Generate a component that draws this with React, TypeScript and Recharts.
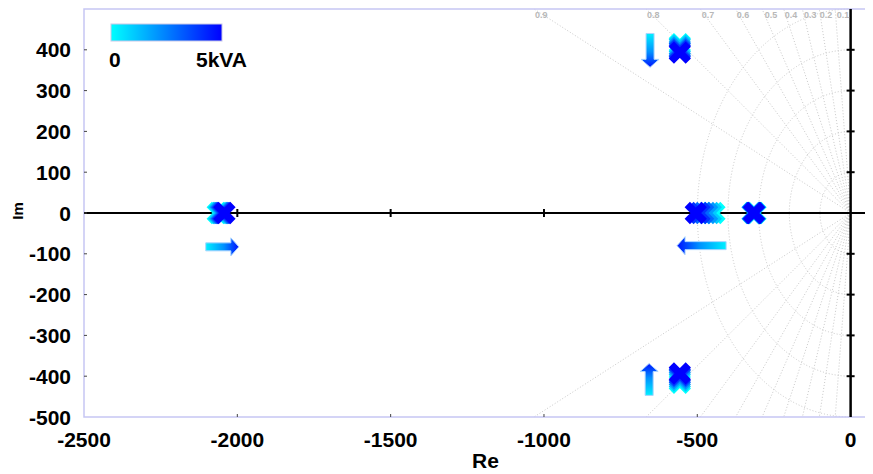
import React from "react";
import {
  ReferenceArea,
  ReferenceLine,
  Scatter,
  ScatterChart,
  XAxis,
  YAxis
} from "recharts";

// axes
const reDomain = [-2500, 73];
const imDomain = [-500, 500];
const reTicks = [-2500, -2000, -1500, -1000, -500, 0];
const imTicks = [-500, -400, -300, -200, -100, 0, 100, 200, 300, 400];
const zeroLineReTicks = [-2000, -1500, -1000, -500];
const zeroLineImTicks = [400, 300, 200, 100, -100, -200, -300, -400];

// s-plane grid
const dampingRatios = [0.1, 0.2, 0.3, 0.4, 0.5, 0.6, 0.7, 0.8, 0.9];
const dampingLabelRe = [-25, -80, -132, -194, -260, -351, -465, -644, -1009];
const naturalFreqs = [100, 200, 300, 400, 500];

// poles vs. inverter power (kVA)
const powerSteps = [0, 1, 2, 3, 4, 5];
const farPoleRe = [-2064, -2059, -2054, -2050, -2046, -2042];
const midPoleRe = [-444, -456, -468, -481, -493, -505];
const nearPoleRe = [-310, -320, -312, -318, -315, -315];
const upperPoleIm = [414, 410, 405, 401, 397, 393];
const lowerPoleIm = [-416, -411, -406, -401, -397, -393];
const complexPoleRe = -557;

// arrows showing the direction of motion with rising power
const arrowTails = [
  { x: -2103, y: -83 },
  { x: -406, y: -80 },
  { x: -654, y: 440 },
  { x: -657, y: -447 }
];
const arrowHeads = [
  { x: -1995, y: -83 },
  { x: -566, y: -80 },
  { x: -654, y: 357 },
  { x: -657, y: -369 }
];

const FONT = "'Liberation Sans', Arial, sans-serif";
const GRID = "#c9c9c9";
const FRAME = "#c6c6f4";

const powerColor = (p: number) =>
  `rgb(0, ${Math.round(255 * (1 - p / 5))}, 255)`;

const poles = [
  ...powerSteps.map((p, i) => ({ x: farPoleRe[i], y: 0, p })),
  ...powerSteps.map((p, i) => ({ x: midPoleRe[i], y: 0, p })),
  ...powerSteps.map((p, i) => ({ x: nearPoleRe[i], y: 0, p })),
  ...powerSteps.map((p, i) => ({ x: complexPoleRe, y: upperPoleIm[i], p })),
  ...powerSteps.map((p, i) => ({ x: complexPoleRe, y: lowerPoleIm[i], p }))
].sort((a, b) => a.p - b.p);

const dampingEdge = (z: number) => (-imDomain[1] * z) / Math.sqrt(1 - z * z);

const dampingLabels = dampingRatios.map((z, i) => ({
  x: dampingLabelRe[i],
  y: 486,
  label: String(z)
}));

function PoleCross(props: any) {
  const { cx, cy, payload } = props;
  const s = 8.5;
  return (
    <path
      d={`M${cx - s},${cy - s}L${cx + s},${cy + s}M${cx + s},${cy - s}L${cx - s},${cy + s}`}
      stroke={powerColor(payload.p)}
      strokeWidth={7.5}
      fill="none"
    />
  );
}

function ArcShape(props: any) {
  const { x1, y1, x2, y2 } = props;
  const rx = x2 - x1;
  const ry = y1 - y2;
  return (
    <path
      d={`M${x2},${y1 - ry}A${rx},${ry} 0 0 0 ${x2},${y1 + ry}`}
      fill="none"
      stroke={GRID}
      strokeDasharray="1 2"
    />
  );
}

function ArrowShape(props: any) {
  const { x1, y1, x2, y2, id } = props;
  const len = Math.hypot(x2 - x1, y2 - y1);
  const ux = (x2 - x1) / len;
  const uy = (y2 - y1) / len;
  const nx = -uy;
  const ny = ux;
  const sw = 4;
  const hw = 9;
  const hl = 8;
  const bx = x2 - ux * hl;
  const by = y2 - uy * hl;
  const pts = [
    [x1 + nx * sw, y1 + ny * sw],
    [bx + nx * sw, by + ny * sw],
    [bx + nx * hw, by + ny * hw],
    [x2, y2],
    [bx - nx * hw, by - ny * hw],
    [bx - nx * sw, by - ny * sw],
    [x1 - nx * sw, y1 - ny * sw]
  ]
    .map((p) => p.join(","))
    .join(" ");
  return (
    <g>
      <defs>
        <linearGradient id={id} gradientUnits="userSpaceOnUse" x1={x1} y1={y1} x2={x2} y2={y2}>
          <stop offset="0%" stopColor="#00f0ff" />
          <stop offset="55%" stopColor="#0090ff" />
          <stop offset="100%" stopColor="#0010ff" />
        </linearGradient>
      </defs>
      <polygon points={pts} fill={`url(#${id})`} stroke="#a9d4ff" strokeWidth={1} />
    </g>
  );
}

function ReTick(props: any) {
  const { x, y, payload } = props;
  const inner = payload.value > reDomain[0] && payload.value < 0;
  return (
    <g>
      {inner && <line x1={x} x2={x} y1={y} y2={y - 3} stroke="#444" />}
      <text x={x} y={y + 30} textAnchor="middle" fontFamily={FONT} fontWeight={700} fontSize={21} fill="#000">
        {payload.value}
      </text>
    </g>
  );
}

function TopTick(props: any) {
  const { x, y, payload } = props;
  const inner = payload.value > reDomain[0] && payload.value < 0;
  return inner ? <line x1={x} x2={x} y1={y} y2={y + 4} stroke="#444" /> : <g />;
}

function ImTick(props: any) {
  const { x, y, payload } = props;
  return (
    <g>
      {payload.value > imDomain[0] && <line x1={x} x2={x + 3} y1={y} y2={y} stroke="#444" />}
      <text x={x - 13} y={y + 7.5} textAnchor="end" fontFamily={FONT} fontWeight={700} fontSize={21} fill="#000">
        {payload.value}
      </text>
    </g>
  );
}

function ImLabel(props: any) {
  const vb = props.viewBox;
  const x = 15;
  const y = vb.y + vb.height / 2 - 2;
  return (
    <text
      x={x}
      y={y}
      transform={`rotate(-90 ${x} ${y})`}
      textAnchor="middle"
      fontFamily={FONT}
      fontWeight={700}
      fontSize={15}
      fill="#000"
    >
      Im
    </text>
  );
}

function PowerColorbar() {
  return (
    <svg width={260} height={70} style={{ position: "absolute", left: 0, top: 0, pointerEvents: "none" }}>
      <defs>
        <linearGradient id="powerbar" x1="0" x2="1" y1="0" y2="0">
          <stop offset="0%" stopColor={powerColor(0)} />
          <stop offset="100%" stopColor={powerColor(5)} />
        </linearGradient>
      </defs>
      <rect x={103} y={16} width={111} height={17} fill="url(#powerbar)" stroke="#c8c8e8" strokeWidth={1} />
      <text x={101} y={58.5} fontFamily={FONT} fontWeight={700} fontSize={21} fill="#000">
        0
      </text>
      <text x={239} y={58.5} textAnchor="end" fontFamily={FONT} fontWeight={700} fontSize={21} fill="#000">
        5kVA
      </text>
    </svg>
  );
}

export default function App() {
  return (
    <div style={{ position: "relative", width: 865, height: 466 }}>
      <ScatterChart width={865} height={466} margin={{ top: 1, right: 0, bottom: 0, left: 0 }}>
        <XAxis
          type="number"
          dataKey="x"
          domain={reDomain}
          ticks={reTicks}
          interval={0}
          allowDataOverflow
          height={57}
          axisLine={false}
          tickLine={false}
          tickSize={0}
          tickMargin={0}
          tick={<ReTick />}
          label={{
            value: "Re",
            position: "insideBottom",
            offset: 6,
            dx: 7,
            style: { fontFamily: FONT, fontWeight: 700, fontSize: 21, fill: "#000" }
          }}
        />
        <XAxis
          xAxisId="top"
          orientation="top"
          type="number"
          dataKey="x"
          domain={reDomain}
          ticks={reTicks}
          interval={0}
          allowDataOverflow
          height={0}
          axisLine={false}
          tickLine={false}
          tickSize={0}
          tickMargin={0}
          tick={<TopTick />}
        />
        <YAxis
          type="number"
          dataKey="y"
          domain={imDomain}
          ticks={imTicks}
          interval={0}
          allowDataOverflow
          width={76}
          axisLine={false}
          tickLine={false}
          tickSize={0}
          tickMargin={0}
          tick={<ImTick />}
          label={{ content: ImLabel }}
        />

        {naturalFreqs.map((r) => (
          <ReferenceLine
            key={`wn${r}`}
            segment={[
              { x: -r, y: 0 },
              { x: 0, y: r }
            ]}
            shape={ArcShape}
            zIndex={0}
          />
        ))}
        {dampingRatios.map((z) =>
          [1, -1].map((s) => (
            <ReferenceLine
              key={`z${z}${s}`}
              segment={[
                { x: 0, y: 0 },
                { x: dampingEdge(z), y: s * imDomain[1] }
              ]}
              stroke={GRID}
              strokeDasharray="1 2"
              zIndex={0}
            />
          ))
        )}

        <ReferenceArea
          x1={reDomain[0]}
          x2={reDomain[1]}
          y1={imDomain[0]}
          y2={imDomain[1]}
          fill="none"
          fillOpacity={0}
          stroke={FRAME}
          strokeWidth={1.5}
          zIndex={0}
        />
        <ReferenceLine y={0} stroke="#000" strokeWidth={2} zIndex={0} />
        <ReferenceLine x={0} stroke="#000" strokeWidth={2.5} zIndex={0} />

        {arrowTails.map((t, i) => (
          <ReferenceLine
            key={`arrow${i}`}
            segment={[t, arrowHeads[i]]}
            shape={(p: any) => <ArrowShape {...p} id={`arrowgrad${i}`} />}
            zIndex={0}
          />
        ))}

        <Scatter
          data={dampingLabels}
          isAnimationActive={false}
          shape={(p: any) => (
            <text x={p.cx} y={p.cy + 3} textAnchor="middle" fontFamily={FONT} fontWeight={700} fontSize={9} fill="#b8b8b8">
              {p.payload.label}
            </text>
          )}
        />
        <Scatter
          data={zeroLineReTicks.map((x) => ({ x, y: 0 }))}
          isAnimationActive={false}
          shape={(p: any) => <line x1={p.cx} x2={p.cx} y1={p.cy - 4} y2={p.cy + 4} stroke="#000" strokeWidth={2} />}
        />
        <Scatter
          data={zeroLineImTicks.map((y) => ({ x: 0, y }))}
          isAnimationActive={false}
          shape={(p: any) => <line x1={p.cx - 4} x2={p.cx + 4} y1={p.cy} y2={p.cy} stroke="#000" strokeWidth={2} />}
        />
        <Scatter data={poles} isAnimationActive={false} shape={PoleCross} />
      </ScatterChart>
      <PowerColorbar />
    </div>
  );
}
